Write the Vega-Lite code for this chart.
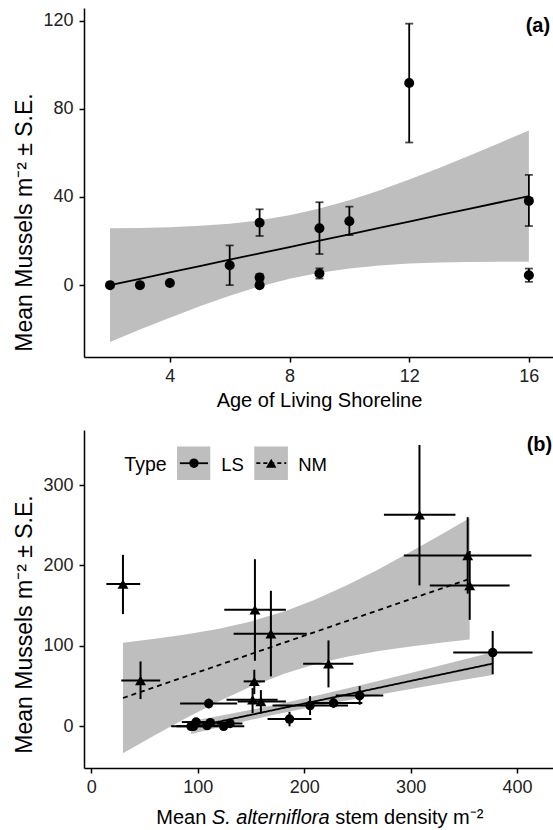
{
  "$schema": "https://vega.github.io/schema/vega-lite/v6.json",
  "background": "white",
  "padding": {"left": 13, "top": 8, "right": 0, "bottom": 0},
  "spacing": 20,
  "config": {
    "font": "Liberation Sans",
    "view": {"stroke": null},
    "axis": {"grid": false, "domainColor": "#000", "domainWidth": 1.5, "tickColor": "#000", "tickWidth": 1.5, "tickSize": 5,
      "labelFont": "Liberation Sans", "labelFontSize": 18, "labelColor": "#222",
      "titleFont": "Liberation Sans", "titleFontSize": 20, "titleFontWeight": "normal", "titleColor": "#000"},
    "axisX": {"labelPadding": 5, "titlePadding": 5},
    "axisY": {"labelPadding": 6, "titlePadding": 6, "titleFontSize": 23}
  },
  "datasets": {
    "one": [{}],
    "ptsA": [
      {"age": 2, "mussels": 0},
      {"age": 3, "mussels": 0},
      {"age": 4, "mussels": 1},
      {"age": 6, "mussels": 9, "lo": 0, "hi": 18},
      {"age": 7, "mussels": 28.3, "lo": 22.3, "hi": 34.4},
      {"age": 7, "mussels": 3.5, "lo": 2, "hi": 5},
      {"age": 7, "mussels": 0},
      {"age": 9, "mussels": 25.8, "lo": 14.1, "hi": 37.6},
      {"age": 9, "mussels": 5.3, "lo": 3, "hi": 7.6},
      {"age": 10, "mussels": 29, "lo": 22.7, "hi": 35.6},
      {"age": 12, "mussels": 91.7, "lo": 64.7, "hi": 118.6},
      {"age": 16, "mussels": 38.2, "lo": 26.8, "hi": 50},
      {"age": 16, "mussels": 4.5, "lo": 1.5, "hi": 7.5}
    ],
    "bandA": [
      {"age": 2, "lower": -25.8, "upper": 25.8, "fit": 0.0},
      {"age": 3, "lower": -20.16, "upper": 25.92, "fit": 2.88},
      {"age": 4, "lower": -14.74, "upper": 26.26, "fit": 5.76},
      {"age": 5, "lower": -9.59, "upper": 26.88, "fit": 8.65},
      {"age": 6, "lower": -4.83, "upper": 27.89, "fit": 11.53},
      {"age": 7, "lower": -0.62, "upper": 29.44, "fit": 14.41},
      {"age": 8, "lower": 2.89, "upper": 31.69, "fit": 17.29},
      {"age": 9, "lower": 5.63, "upper": 34.73, "fit": 20.18},
      {"age": 10, "lower": 7.59, "upper": 38.53, "fit": 23.06},
      {"age": 11, "lower": 8.92, "upper": 42.96, "fit": 25.94},
      {"age": 12, "lower": 9.77, "upper": 47.89, "fit": 28.83},
      {"age": 13, "lower": 10.26, "upper": 53.16, "fit": 31.71},
      {"age": 14, "lower": 10.51, "upper": 58.67, "fit": 34.59},
      {"age": 15, "lower": 10.6, "upper": 64.36, "fit": 37.48},
      {"age": 16, "lower": 10.56, "upper": 70.16, "fit": 40.36}
    ],
    "ptsB": [
      {"Type": "LS", "density": 93.7, "mussels": 0, "dlo": 75, "dhi": 112},
      {"Type": "LS", "density": 96, "mussels": 0, "dlo": 80, "dhi": 112},
      {"Type": "LS", "density": 98.4, "mussels": 5.3, "dlo": 85, "dhi": 112, "mlo": 3, "mhi": 7.6},
      {"Type": "LS", "density": 108.7, "mussels": 1, "dlo": 90, "dhi": 127},
      {"Type": "LS", "density": 111.8, "mussels": 4.5, "dlo": 95, "dhi": 128, "mlo": 1.5, "mhi": 7.5},
      {"Type": "LS", "density": 124.3, "mussels": 0, "dlo": 105, "dhi": 143.7},
      {"Type": "LS", "density": 130.3, "mussels": 3.5, "dlo": 118, "dhi": 142, "mlo": 2, "mhi": 5},
      {"Type": "LS", "density": 110.3, "mussels": 28.3, "dlo": 83.4, "dhi": 137, "mlo": 22.3, "mhi": 34.4},
      {"Type": "LS", "density": 186.2, "mussels": 9, "dlo": 165.6, "dhi": 206.8, "mlo": 0, "mhi": 18},
      {"Type": "LS", "density": 205.5, "mussels": 25.8, "dlo": 170.3, "dhi": 241.2, "mlo": 14.1, "mhi": 37.6},
      {"Type": "LS", "density": 227.5, "mussels": 29, "dlo": 207.8, "dhi": 254.6, "mlo": 22.7, "mhi": 35.6},
      {"Type": "LS", "density": 252.1, "mussels": 38.2, "dlo": 229.6, "dhi": 274.3, "mlo": 26.8, "mhi": 50},
      {"Type": "LS", "density": 377.1, "mussels": 91.7, "dlo": 340, "dhi": 414.5, "mlo": 64.7, "mhi": 118.6},
      {"Type": "NM", "density": 29.7, "mussels": 176.8, "dlo": 14.1, "dhi": 45.9, "mlo": 139.5, "mhi": 213.2},
      {"Type": "NM", "density": 46.2, "mussels": 57.1, "dlo": 28.1, "dhi": 64.7, "mlo": 33.9, "mhi": 80.7},
      {"Type": "NM", "density": 153.7, "mussels": 144.9, "dlo": 124.9, "dhi": 182.8, "mlo": 81.5, "mhi": 207.8},
      {"Type": "NM", "density": 168.7, "mussels": 115.1, "dlo": 133.7, "dhi": 202.4, "mlo": 62.1, "mhi": 168.5},
      {"Type": "NM", "density": 222.8, "mussels": 77.8, "dlo": 199.0, "dhi": 246.2, "mlo": 48.4, "mhi": 106.8},
      {"Type": "NM", "density": 153.1, "mussels": 55.9, "dlo": 143.1, "dhi": 163.1, "mlo": 40.1, "mhi": 70.3},
      {"Type": "NM", "density": 151.5, "mussels": 33.0, "dlo": 127.0, "dhi": 175.0, "mlo": 16.6, "mhi": 47.6},
      {"Type": "NM", "density": 159.3, "mussels": 31.0, "dlo": 137.5, "dhi": 182.8, "mlo": 16.0, "mhi": 45.0},
      {"Type": "NM", "density": 308.3, "mussels": 262.9, "dlo": 274.9, "dhi": 342.1, "mlo": 175.2, "mhi": 349.8},
      {"Type": "NM", "density": 353.6, "mussels": 212.4, "dlo": 293.6, "dhi": 413.6, "mlo": 165.0, "mhi": 260.0},
      {"Type": "NM", "density": 355.5, "mussels": 175.2, "dlo": 318.0, "dhi": 393.0, "mlo": 132.4, "mhi": 218.0}
    ],
    "bandB": [
      {"Type": "LS", "density": 93.7, "lower": -9.5, "upper": 6.5, "fit": -1.5},
      {"Type": "LS", "density": 120, "lower": -1.1, "upper": 12.9, "fit": 5.9},
      {"Type": "LS", "density": 150, "lower": 8.1, "upper": 20.5, "fit": 14.3},
      {"Type": "LS", "density": 176.3, "lower": 15.7, "upper": 27.7, "fit": 21.7},
      {"Type": "LS", "density": 200, "lower": 22.1, "upper": 34.5, "fit": 28.3},
      {"Type": "LS", "density": 250, "lower": 34.7, "upper": 50.0, "fit": 42.3},
      {"Type": "LS", "density": 300, "lower": 46.4, "upper": 66.3, "fit": 56.4},
      {"Type": "LS", "density": 350, "lower": 57.8, "upper": 83.0, "fit": 70.4},
      {"Type": "LS", "density": 377.1, "lower": 63.8, "upper": 92.2, "fit": 78.0},
      {"Type": "NM", "density": 29.7, "lower": -33.6, "upper": 104.0, "fit": 35.2},
      {"Type": "NM", "density": 60, "lower": -10.8, "upper": 108.8, "fit": 49.0},
      {"Type": "NM", "density": 90, "lower": 10.85, "upper": 114.35, "fit": 62.6},
      {"Type": "NM", "density": 120, "lower": 31.1, "upper": 121.3, "fit": 76.2},
      {"Type": "NM", "density": 150, "lower": 49.4, "upper": 130.4, "fit": 89.9},
      {"Type": "NM", "density": 181.8, "lower": 65.7, "upper": 143.1, "fit": 104.4},
      {"Type": "NM", "density": 210, "lower": 77.1, "upper": 157.3, "fit": 117.2},
      {"Type": "NM", "density": 240, "lower": 86.5, "upper": 175.3, "fit": 130.9},
      {"Type": "NM", "density": 270, "lower": 93.6, "upper": 195.4, "fit": 144.5},
      {"Type": "NM", "density": 300, "lower": 99.4, "upper": 217.0, "fit": 158.2},
      {"Type": "NM", "density": 330, "lower": 104.2, "upper": 239.4, "fit": 171.8},
      {"Type": "NM", "density": 355.5, "lower": 107.8, "upper": 259.0, "fit": 183.4}
    ]
  },
  "vconcat": [
    {
      "width": 470,
      "height": 349,
      "layer": [
        {
          "data": {"name": "bandA"},
          "mark": {"type": "area", "color": "#BEBEBE", "opacity": 1},
          "encoding": {
            "x": {"field": "age", "type": "quantitative", "title": "Age of Living Shoreline",
              "scale": {"domain": [1.13, 16.84], "nice": false, "zero": false},
              "axis": {"values": [4, 8, 12, 16]}},
            "y": {"field": "lower", "type": "quantitative", "title": "Mean Mussels m⁻² ± S.E.",
              "scale": {"domain": [-32.6, 125.7], "nice": false, "zero": false},
              "axis": {"values": [0, 40, 80, 120], "titleY": 214}},
            "y2": {"field": "upper"}
          }
        },
        {
          "data": {"name": "bandA"},
          "mark": {"type": "line", "color": "#000", "strokeWidth": 1.8},
          "encoding": {
            "x": {"field": "age", "type": "quantitative", "title": "Age of Living Shoreline"},
            "y": {"field": "fit", "type": "quantitative", "title": "Mean Mussels m⁻² ± S.E."}
          }
        },
        {
          "data": {"name": "ptsA"},
          "transform": [{"filter": {"field": "lo", "valid": true}}],
          "mark": {"type": "rule", "color": "#000", "strokeWidth": 1.8},
          "encoding": {
            "x": {"field": "age", "type": "quantitative", "title": "Age of Living Shoreline"},
            "y": {"field": "lo", "type": "quantitative", "title": "Mean Mussels m⁻² ± S.E."},
            "y2": {"field": "hi"}
          }
        },
        {
          "data": {"name": "ptsA"},
          "transform": [{"filter": {"field": "lo", "valid": true}}],
          "mark": {"type": "tick", "color": "#000", "orient": "horizontal", "size": 8, "thickness": 1.8},
          "encoding": {
            "x": {"field": "age", "type": "quantitative", "title": "Age of Living Shoreline"},
            "y": {"field": "lo", "type": "quantitative", "title": "Mean Mussels m⁻² ± S.E."}
          }
        },
        {
          "data": {"name": "ptsA"},
          "transform": [{"filter": {"field": "hi", "valid": true}}],
          "mark": {"type": "tick", "color": "#000", "orient": "horizontal", "size": 8, "thickness": 1.8},
          "encoding": {
            "x": {"field": "age", "type": "quantitative", "title": "Age of Living Shoreline"},
            "y": {"field": "hi", "type": "quantitative", "title": "Mean Mussels m⁻² ± S.E."}
          }
        },
        {
          "data": {"name": "ptsA"},
          "mark": {"type": "point", "shape": "circle", "filled": true, "color": "#000", "opacity": 1, "size": 100},
          "encoding": {
            "x": {"field": "age", "type": "quantitative", "title": "Age of Living Shoreline"},
            "y": {"field": "mussels", "type": "quantitative", "title": "Mean Mussels m⁻² ± S.E."}
          }
        },
        {
          "data": {"name": "one"},
          "mark": {"type": "text", "text": "(a)", "fontSize": 20, "fontWeight": "bold", "align": "center", "baseline": "middle", "color": "#000"},
          "encoding": {"x": {"datum": 16.3}, "y": {"datum": 117.4}}
        }
      ]
    },
    {
      "width": 470,
      "height": 338,
      "layer": [
        {
          "data": {"name": "bandB"},
          "mark": {"type": "area", "color": "#BEBEBE", "opacity": 1},
          "encoding": {
            "x": {"field": "density", "type": "quantitative", "title": null,
              "scale": {"domain": [-6.9, 434.7], "nice": false, "zero": false},
              "axis": {"values": [0, 100, 200, 300, 400]}},
            "y": {"field": "lower", "type": "quantitative", "title": "Mean Mussels m⁻² ± S.E.",
              "scale": {"domain": [-51.8, 368.4], "nice": false, "zero": false},
              "axis": {"values": [0, 100, 200, 300], "titleY": 194}},
            "y2": {"field": "upper"},
            "detail": {"field": "Type", "type": "nominal"}
          }
        },
        {
          "data": {"name": "bandB"},
          "mark": {"type": "line", "color": "#000", "strokeWidth": 1.8},
          "encoding": {
            "x": {"field": "density", "type": "quantitative", "title": null},
            "y": {"field": "fit", "type": "quantitative", "title": "Mean Mussels m⁻² ± S.E."},
            "strokeDash": {"field": "Type", "type": "nominal", "scale": {"domain": ["LS", "NM"], "range": [[1, 0], [5, 4]]}, "legend": null}
          }
        },
        {
          "data": {"name": "ptsB"},
          "mark": {"type": "rule", "color": "#000", "strokeWidth": 2},
          "encoding": {
            "x": {"field": "dlo", "type": "quantitative", "title": null},
            "x2": {"field": "dhi"},
            "y": {"field": "mussels", "type": "quantitative", "title": "Mean Mussels m⁻² ± S.E."}
          }
        },
        {
          "data": {"name": "ptsB"},
          "transform": [{"filter": {"field": "mlo", "valid": true}}],
          "mark": {"type": "rule", "color": "#000", "strokeWidth": 2},
          "encoding": {
            "x": {"field": "density", "type": "quantitative", "title": null},
            "y": {"field": "mlo", "type": "quantitative", "title": "Mean Mussels m⁻² ± S.E."},
            "y2": {"field": "mhi"}
          }
        },
        {
          "data": {"name": "ptsB"},
          "mark": {"type": "point", "filled": true, "color": "#000", "opacity": 1},
          "encoding": {
            "x": {"field": "density", "type": "quantitative", "title": null},
            "y": {"field": "mussels", "type": "quantitative", "title": "Mean Mussels m⁻² ± S.E."},
            "shape": {"field": "Type", "type": "nominal", "scale": {"domain": ["LS", "NM"], "range": ["circle", "triangle-up"]}, "legend": null},
            "size": {"field": "Type", "type": "nominal", "scale": {"domain": ["LS", "NM"], "range": [90, 120]}, "legend": null}
          }
        },
        {
          "data": {"name": "one"},
          "mark": {"type": "rect", "color": "#BEBEBE"},
          "encoding": {"x": {"datum": 80.5}, "x2": {"datum": 111.7}, "y": {"datum": 347.8}, "y2": {"datum": 306.3}}
        },
        {
          "data": {"name": "one"},
          "mark": {"type": "rect", "color": "#BEBEBE"},
          "encoding": {"x": {"datum": 153.1}, "x2": {"datum": 184.7}, "y": {"datum": 347.8}, "y2": {"datum": 306.3}}
        },
        {
          "data": {"name": "one"},
          "mark": {"type": "rule", "color": "#000", "strokeWidth": 1.8},
          "encoding": {"x": {"datum": 83.2}, "x2": {"datum": 109.6}, "y": {"datum": 327.1}}
        },
        {
          "data": {"name": "one"},
          "mark": {"type": "rule", "color": "#000", "strokeWidth": 1.8, "strokeDash": [4, 3]},
          "encoding": {"x": {"datum": 155}, "x2": {"datum": 183.1}, "y": {"datum": 327.1}}
        },
        {
          "data": {"name": "one"},
          "mark": {"type": "point", "shape": "circle", "filled": true, "color": "#000", "opacity": 1, "size": 90},
          "encoding": {"x": {"datum": 96.4}, "y": {"datum": 327.1}}
        },
        {
          "data": {"name": "one"},
          "mark": {"type": "point", "shape": "triangle-up", "filled": true, "color": "#000", "opacity": 1, "size": 110},
          "encoding": {"x": {"datum": 169.0}, "y": {"datum": 327.1}}
        },
        {
          "data": {"name": "one"},
          "mark": {"type": "text", "text": "Type", "fontSize": 19.5, "align": "left", "baseline": "middle", "color": "#000"},
          "encoding": {"x": {"datum": 31.0}, "y": {"datum": 325.5}}
        },
        {
          "data": {"name": "one"},
          "mark": {"type": "text", "text": "LS", "fontSize": 18.5, "align": "left", "baseline": "middle", "color": "#000"},
          "encoding": {"x": {"datum": 122.1}, "y": {"datum": 325.5}}
        },
        {
          "data": {"name": "one"},
          "mark": {"type": "text", "text": "NM", "fontSize": 18.5, "align": "left", "baseline": "middle", "color": "#000"},
          "encoding": {"x": {"datum": 194.4}, "y": {"datum": 325.5}}
        },
        {
          "data": {"name": "one"},
          "mark": {"type": "text", "text": "(b)", "fontSize": 20, "fontWeight": "bold", "align": "center", "baseline": "middle", "color": "#000"},
          "encoding": {"x": {"datum": 421}, "y": {"datum": 349.8}}
        },
        {
          "data": {"name": "one"},
          "mark": {"type": "text", "text": "Mean", "fontSize": 20, "align": "right", "baseline": "alphabetic", "color": "#000"},
          "encoding": {"x": {"datum": 108.0}, "y": {"datum": -122}}
        },
        {
          "data": {"name": "one"},
          "mark": {"type": "text", "text": "S. alterniflora", "fontSize": 20, "fontStyle": "italic", "align": "left", "baseline": "alphabetic", "color": "#000"},
          "encoding": {"x": {"datum": 113.2}, "y": {"datum": -122}}
        },
        {
          "data": {"name": "one"},
          "mark": {"type": "text", "text": "stem density m⁻²", "fontSize": 20, "align": "left", "baseline": "alphabetic", "color": "#000"},
          "encoding": {"x": {"datum": 229.1}, "y": {"datum": -122}}
        }
      ]
    }
  ]
}
